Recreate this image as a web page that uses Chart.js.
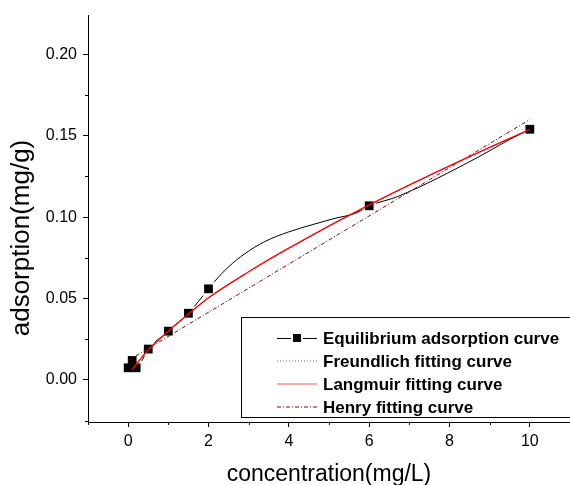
<!DOCTYPE html>
<html>
<head>
<meta charset="utf-8">
<script src="https://cdn.jsdelivr.net/npm/chart.js@4.4.1/dist/chart.umd.min.js"></script>
<style>
html,body{margin:0;padding:0;background:#fff;}
#wrap{width:570px;height:485px;}
</style>
</head>
<body>
<div id="wrap"><canvas id="chart" width="570" height="485"></canvas></div>
<script>
// measured points (concentration mg/L, adsorption mg/g)
const concX   = [0, 0.1, 0.2, 0.5, 1, 1.5, 2, 6, 10];
const adsorbY = [0.0075, 0.012, 0.0075, 0.019, 0.030, 0.041, 0.056, 0.107, 0.154];

// black connecting curve
const curveX = [0, 0.1, 0.2, 0.5, 1, 1.5, 2, 2.15, 2.5, 2.9, 3.4, 4, 4.6, 5.1, 5.7, 6, 6.7, 8.7, 9.5, 10];
const curveY = [0.0075, 0.012, 0.0075, 0.019, 0.030, 0.041, 0.056, 0.0605, 0.0695, 0.0775, 0.0850, 0.0910, 0.0955, 0.0990, 0.1028, 0.107, 0.1126, 0.1367, 0.1478, 0.154];

// fitted curves
const langX = [0.1, 0.5, 1, 1.5, 2, 3, 4, 6, 8, 10];
const langY = [0.0065, 0.0185, 0.0300, 0.0405, 0.0505, 0.0665, 0.0810, 0.1075, 0.1315, 0.154];
const freuX = [0.1, 0.5, 1, 1.5, 2, 3, 4, 6, 8, 10];
const freuY = [0.0068, 0.0187, 0.0301, 0.0405, 0.0504, 0.0664, 0.0809, 0.1074, 0.1314, 0.1538];
const henryX = [0, 10];
const henryY = [0.012, 0.160];

const xTicks = [0, 2, 4, 6, 8, 10];
const yTicks = [0, 0.05, 0.10, 0.15, 0.20];
const xMinor = [-1, 1, 3, 5, 7, 9];
const yMinor = [-0.025, 0.025, 0.075, 0.125, 0.175];
const yTitle = 'adsorption(mg/g)';

const pts = (xs, ys) => xs.map((x, i) => ({x: x, y: ys[i]}));
const FONT = "'Liberation Sans', Arial, sans-serif";

// small outward minor ticks like the original plot
const minorTicks = {
  id: 'minorTicks',
  afterDraw(chart) {
    const {ctx, scales: {x, y}, chartArea: a} = chart;
    ctx.save();
    ctx.strokeStyle = '#000';
    ctx.lineWidth = 1;
    ctx.beginPath();
    xMinor.forEach(v => {
      const px = Math.round(x.getPixelForValue(v)) + 0.5;
      ctx.moveTo(px, a.bottom); ctx.lineTo(px, a.bottom + 3);
    });
    yMinor.forEach(v => {
      const py = Math.round(y.getPixelForValue(v)) + 0.5;
      ctx.moveTo(a.left, py); ctx.lineTo(a.left - 3, py);
    });
    ctx.stroke();
    ctx.restore();
  }
};

// y axis title, sitting a little below the middle of the axis as in the original
const sideTitle = {
  id: 'sideTitle',
  afterDraw(chart) {
    const ctx = chart.ctx;
    ctx.save();
    ctx.translate(22, 238);
    ctx.rotate(-Math.PI / 2);
    ctx.fillStyle = '#000';
    ctx.font = '26px ' + FONT;
    ctx.textAlign = 'center';
    ctx.textBaseline = 'middle';
    ctx.fillText(yTitle, 0, 0);
    ctx.restore();
  }
};

// boxed legend in the lower right, Origin style
const legendBox = {
  id: 'legendBox',
  afterDraw(chart) {
    const ctx = chart.ctx;
    const items = chart.data.datasets.filter(d => d.label);
    ctx.save();
    ctx.fillStyle = '#fff';
    ctx.fillRect(241.5, 317.5, 340, 100);
    ctx.strokeStyle = '#000';
    ctx.lineWidth = 1;
    ctx.strokeRect(241.5, 317.5, 340, 100);
    items.forEach((d, i) => {
      const y = 338 + i * 23;
      ctx.strokeStyle = d.legendColor || d.borderColor;
      ctx.lineWidth = 1;
      ctx.setLineDash(d.borderDash || []);
      ctx.beginPath();
      if (d.pointStyle === 'rect') {
        ctx.moveTo(277, y + 0.5); ctx.lineTo(291, y + 0.5);
        ctx.moveTo(303, y + 0.5); ctx.lineTo(317, y + 0.5);
        ctx.stroke();
        ctx.fillStyle = '#000';
        ctx.fillRect(293, y - 4, 8, 8);
      } else {
        ctx.moveTo(277, y); ctx.lineTo(317, y);
        ctx.stroke();
      }
      ctx.setLineDash([]);
      ctx.fillStyle = '#000';
      ctx.font = 'bold 17px ' + FONT;
      ctx.textBaseline = 'middle';
      ctx.textAlign = 'left';
      ctx.fillText(d.label, 323, y + 1);
    });
    ctx.restore();
  }
};

new Chart(document.getElementById('chart'), {
  type: 'scatter',
  data: {
    datasets: [
      { label: 'Equilibrium adsorption curve', data: pts(concX, adsorbY), showLine: false,
        pointStyle: 'rect', pointRadius: 6.2, pointBackgroundColor: '#000',
        pointBorderWidth: 0, borderColor: '#000', order: 3 },
      { label: 'Freundlich fitting curve', data: pts(freuX, freuY), showLine: true,
        borderColor: '#2222cc', legendColor: '#5555dd', borderWidth: 1, borderDash: [1, 2],
        pointRadius: 0, cubicInterpolationMode: 'monotone', order: 1 },
      { label: 'Langmuir fitting curve', data: pts(langX, langY), showLine: true,
        borderColor: '#ff0000', legendColor: '#ff5555', borderWidth: 1.4,
        pointRadius: 0, cubicInterpolationMode: 'monotone', order: 0 },
      { label: 'Henry fitting curve', data: pts(henryX, henryY), showLine: true,
        borderColor: '#8b0000', borderWidth: 1, borderDash: [4, 2, 1, 2],
        pointRadius: 0, order: 2 },
      // white halo under the markers: the line stops short of each symbol
      { data: pts(concX, adsorbY), showLine: false, pointStyle: 'rect', pointRadius: 9.5,
        pointBackgroundColor: '#fff', pointBorderWidth: 0, order: 4 },
      { data: pts(curveX, curveY), showLine: true, borderColor: '#000', borderWidth: 1,
        pointRadius: 0, cubicInterpolationMode: 'monotone', order: 5 }
    ]
  },
  options: {
    responsive: false,
    animation: false,
    layout: { autoPadding: false, padding: { top: 15, right: 0, bottom: 0, left: 0 } },
    plugins: { legend: { display: false }, tooltip: { enabled: false } },
    scales: {
      x: {
        type: 'linear', min: -1, max: 11,
        afterFit: s => { s.height = 63; s.paddingLeft = 0; s.paddingRight = 0; },
        afterBuildTicks: s => { s.ticks = xTicks.map(v => ({value: v})); },
        grid: { drawOnChartArea: false, drawTicks: true, tickLength: 5, color: '#000', tickColor: '#000' },
        border: { display: true, color: '#000', width: 1 },
        ticks: { color: '#000', padding: 5, font: { family: FONT, size: 16 },
                 autoSkip: false, maxRotation: 0, callback: v => String(v) },
        title: { display: true, text: 'concentration(mg/L)', color: '#000',
                 font: { family: FONT, size: 23 }, padding: { top: 0, bottom: -3 } }
      },
      y: {
        type: 'linear', min: -0.0258, max: 0.2242,
        afterFit: s => { s.width = 88; s.paddingTop = 0; s.paddingBottom = 0; },
        afterBuildTicks: s => { s.ticks = yTicks.map(v => ({value: v})); },
        grid: { drawOnChartArea: false, drawTicks: true, tickLength: 5, color: '#000', tickColor: '#000' },
        border: { display: true, color: '#000', width: 1 },
        ticks: { color: '#000', padding: 6, font: { family: FONT, size: 16 },
                 callback: v => v.toFixed(2) },
        title: { display: false }
      }
    }
  },
  plugins: [minorTicks, sideTitle, legendBox]
});
</script>
</body>
</html>
